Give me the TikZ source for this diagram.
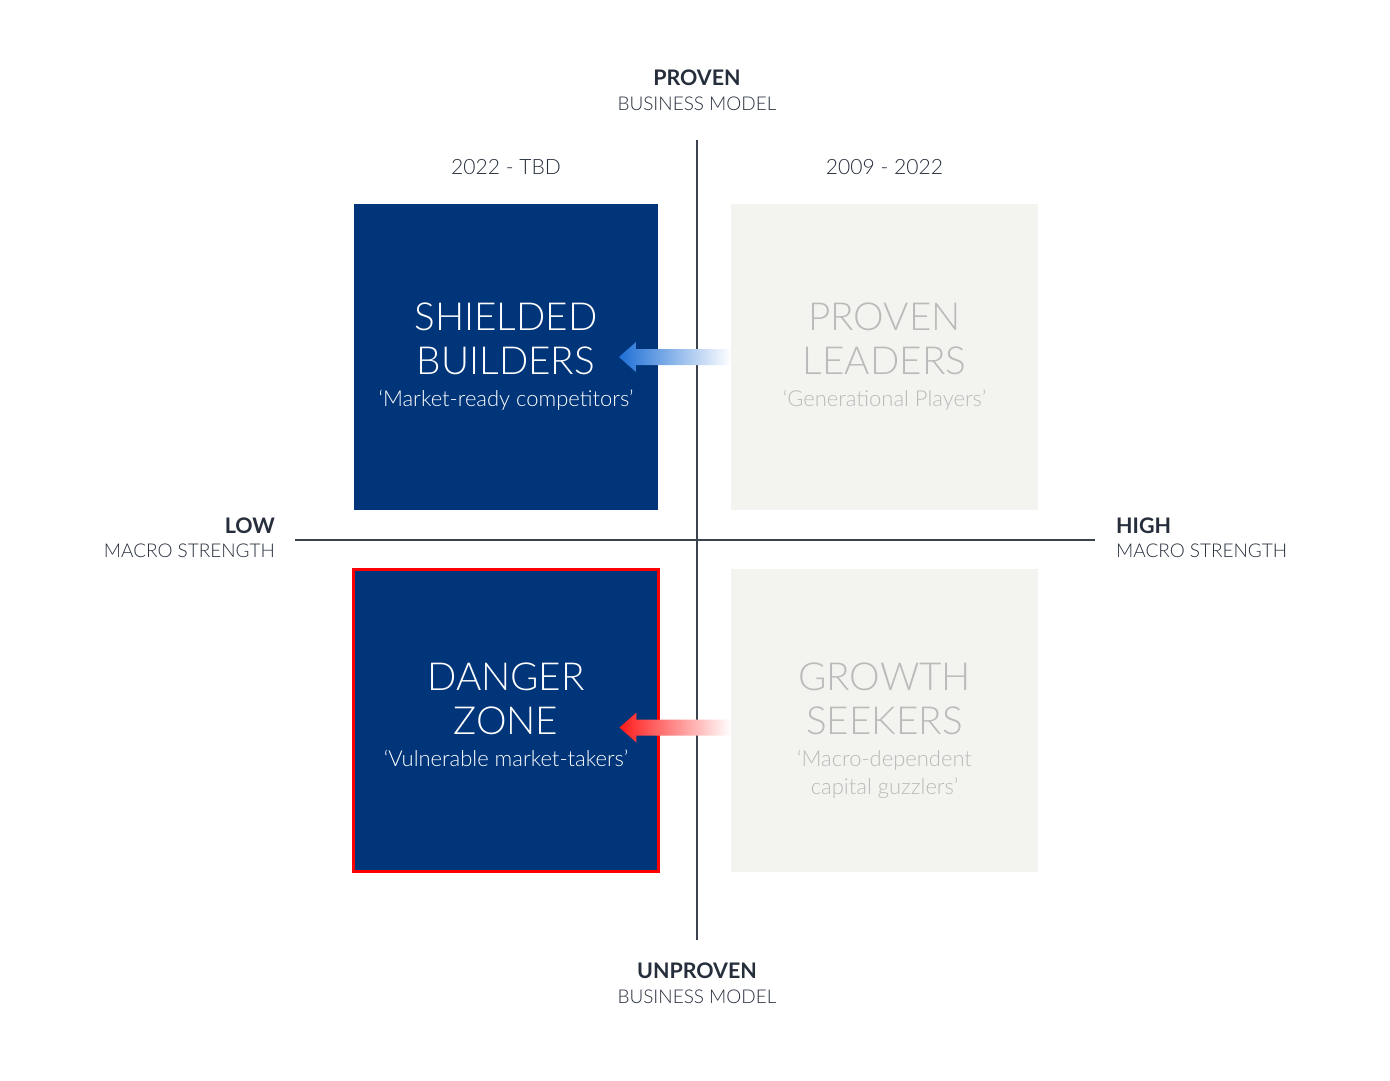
\documentclass[tikz,border=0pt]{standalone}
\usepackage{fontspec}
\setmainfont{Lato}[UprightFont=* Light, BoldFont=* Bold]
\usepackage{tikz}
\usetikzlibrary{positioning, calc}
\definecolor{navybox}{RGB}{0,53,122}
\definecolor{palebox}{RGB}{243,243,239}
\definecolor{paletext}{RGB}{186,186,186}
\definecolor{axisgray}{RGB}{60,66,78}
\definecolor{labeldark}{RGB}{38,46,60}
\definecolor{arrowblue}{RGB}{30,111,214}
\definecolor{arrowred}{RGB}{255,26,26}
\tikzset{
	quadrant/.style={rectangle, inner sep=0pt, outer sep=0pt},
	darkquad/.style={quadrant, fill=navybox},
	palequad/.style={quadrant, fill=palebox},
	quadtitle/.style={align=center, inner sep=0pt, anchor=north, font=\fontsize{22}{25.5}\selectfont},
	quadsub/.style={align=center, inner sep=0pt, font=\fontsize{12.5}{15.9}\selectfont},
	periodlabel/.style={text=labeldark, font=\fontsize{12}{16}\selectfont},
	axislabel/.style={text=labeldark, inner sep=1pt, font=\fontsize{10.8}{14}\selectfont},
	axisline/.style={draw=axisgray, line width=1pt},
}
\newcommand{\axishead}[1]{{\bfseries\fontsize{12.2}{14}\selectfont #1}}

\begin{document}
\begin{tikzpicture}[x=0.02cm, y=-0.02cm]
		\useasboundingbox (0,0) rectangle (1390,1080);
		% axes
		\coordinate (vtop) at (697,140);
		\coordinate (vbot) at (697,940);
		\coordinate (hleft) at (295,540);
		\coordinate (hright) at (1095,540);
		\draw[axisline] (vtop) -- (vbot);
		\draw[axisline] (hleft) -- (hright);
		\node[axislabel, align=center, above=0.55cm of vtop] (proven) {\axishead{PROVEN}\\BUSINESS MODEL};
		\node[axislabel, align=center, below=0.42cm of vbot] (unproven) {\axishead{UNPROVEN}\\BUSINESS MODEL};
		\node[axislabel, align=right, left=0.36cm of hleft, yshift=1.2pt] (low) {\axishead{LOW}\\MACRO STRENGTH};
		\node[axislabel, align=left, right=0.38cm of hright, yshift=1.2pt] (high) {\axishead{HIGH}\\MACRO STRENGTH};
		
		% quadrants
		\node[darkquad, minimum width=6.08cm, minimum height=6.12cm] (shielded) at (506,357) {};
		\node[palequad, minimum width=6.14cm, minimum height=6.12cm] (leaders) at (884.5,357) {};
		\node[darkquad, draw=red, line width=1.7pt, minimum width=6.1cm, minimum height=6.06cm] (danger) at (506,720.5) {};
		\node[palequad, minimum width=6.14cm, minimum height=6.06cm] (growth) at (884.5,720.5) {};
		
		\node[periodlabel] (newera) at ($(shielded.north)+(0,-37)$) {2022 - TBD};
		\node[periodlabel] (oldera) at ($(leaders.north)+(0,-37)$) {2009 - 2022};
		
		\node[quadtitle, text=white] (shieldedt) at ($(shielded.north)+(0,98)$) {SHIELDED\\BUILDERS};
		\node[quadsub, text=white, below=0.28cm of shieldedt] (shieldeds) {‘Market-ready competitors’};
		\node[quadtitle, text=paletext] (leaderst) at ($(leaders.north)+(0,98)$) {PROVEN\\LEADERS};
		\node[quadsub, text=paletext, below=0.28cm of leaderst] (leaderss) {‘Generational Players’};
		\node[quadtitle, text=white] (dangert) at ($(danger.north)+(0,93)$) {DANGER\\ZONE};
		\node[quadsub, text=white, below=0.28cm of dangert] (dangers) {‘Vulnerable market-takers’};
		\node[quadtitle, text=paletext] (growtht) at ($(growth.north)+(0,93)$) {GROWTH\\SEEKERS};
		\node[quadsub, text=paletext, below=0.28cm of growtht] (growths) {‘Macro-dependent\\capital guzzlers’};
		
		% shift arrows
		\shade[left color=arrowblue, right color=white] ($(shielded.east)+(-39,0)$) -- ($(shielded.east)+(-22,-15)$) -- ($(shielded.east)+(-22,-8)$) -- ($(leaders.west)+(0,-8)$) -- ($(leaders.west)+(0,8)$) -- ($(shielded.east)+(-22,8)$) -- ($(shielded.east)+(-22,15)$) -- cycle;
		\shade[left color=arrowred, right color=white] ($(danger.east)+(-39,7)$) -- ($(danger.east)+(-22,-8)$) -- ($(danger.east)+(-22,-1)$) -- ($(growth.west)+(0,-1)$) -- ($(growth.west)+(0,15)$) -- ($(danger.east)+(-22,15)$) -- ($(danger.east)+(-22,22)$) -- cycle;
		
	\end{tikzpicture}
\end{document}
